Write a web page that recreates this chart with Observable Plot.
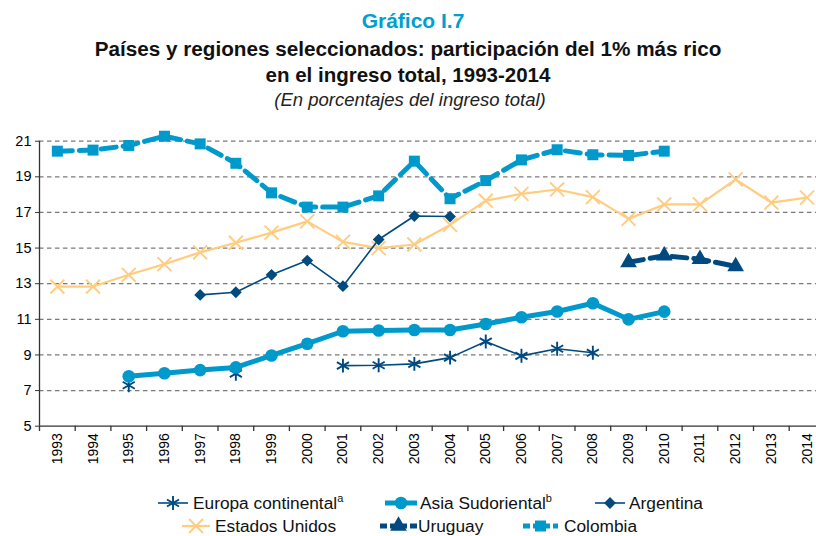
<!DOCTYPE html>
<html>
<head>
<meta charset="utf-8">
<script src="https://cdn.jsdelivr.net/npm/d3@7"></script>
<script src="https://cdn.jsdelivr.net/npm/@observablehq/plot@0.6"></script>
<style>
  html, body { margin: 0; padding: 0; background: #fff; overflow: hidden; }
  #wrap { position: relative; width: 816px; height: 536px; overflow: hidden; background: #fff; font-family: "Liberation Sans", Arial, sans-serif; }
  #wrap svg.plot { position: absolute; left: 0; top: 0; max-width: none !important; height: 536px !important; }
  .t { position: absolute; left: 0; width: 816px; text-align: center; white-space: nowrap; line-height: 1; }
  #legend { position: absolute; left: 0; top: 0; }
</style>
</head>
<body>
<div id="wrap">
  <div class="t" style="top:10px; left:5px; font-size:21px; font-weight:bold; color:#009fd0;">Gráfico I.7</div>
  <div class="t" style="top:39px; font-size:20.7px; font-weight:bold; color:#111;">Países y regiones seleccionados: participación del 1% más rico</div>
  <div class="t" style="top:64.5px; font-size:20.5px; font-weight:bold; color:#111;">en el ingreso total, 1993-2014</div>
  <div class="t" style="top:91px; left:2px; font-size:18.5px; font-style:italic; color:#222;">(En porcentajes del ingreso total)</div>
</div>
<script>
const years = [1993,1994,1995,1996,1997,1998,1999,2000,2001,2002,2003,2004,2005,2006,2007,2008,2009,2010,2011,2012,2013,2014];
const yTicks = [5,7,9,11,13,15,17,19,21];
const seriesNames = ["Europa continental", "Asia Sudoriental", "Argentina", "Estados Unidos", "Uruguay", "Colombia"];
const europa    = [null,null,7.3,null,null,7.95,null,null,8.4,8.42,8.5,8.85,9.75,8.95,9.35,9.12,null,null,null,null,null,null];
const asia      = [null,null,7.8,7.97,8.15,8.3,8.97,9.63,10.33,10.37,10.4,10.4,10.74,11.12,11.44,11.9,11.0,11.43,null,null,null,null];
const argentina = [null,null,null,null,12.37,12.52,13.5,14.3,12.86,15.48,16.8,16.77,null,null,null,null,null,null,null,null,null,null];
const usa       = [12.84,12.84,13.5,14.1,14.76,15.3,15.87,16.5,15.35,15.0,15.2,16.3,17.66,18.04,18.29,17.86,16.64,17.45,17.45,18.86,17.55,17.83];
const uruguay   = [null,null,null,null,null,null,null,null,null,null,null,null,null,null,null,null,14.2,14.57,14.38,13.97,null,null];
const colombia  = [20.44,20.5,20.76,21.28,20.85,19.76,18.1,17.3,17.3,17.93,19.88,17.77,18.79,19.95,20.52,20.24,20.2,20.44,null,null,null,null];

const LB = "#0099cc", DB = "#004a80", OR = "#ffcc80", AX = "#333";
const toRows = (vals) => years.map((year, i) => ({year, value: vals[i]}));
const W = 826, ML = 39, MR = 1.6;
const bw = (W - ML - MR) / years.length;

const styles = {
  europa:    {stroke: DB, strokeWidth: 1.6, symbol: "asterisk", r: 6.6, dash: null, filled: false},
  asia:      {stroke: LB, strokeWidth: 5, symbol: "circle", r: 6.3, dash: null, filled: true},
  argentina: {stroke: DB, strokeWidth: 1.6, symbol: "diamond2", r: 5.3, dash: null, filled: true},
  usa:       {stroke: OR, strokeWidth: 2.2, symbol: "times", r: 6.4, dash: null, filled: false},
  uruguay:   {stroke: DB, strokeWidth: 5, symbol: "triangle", r: 6.2, dash: "15,7", filled: true},
  colombia:  {stroke: LB, strokeWidth: 5, symbol: "square", r: 6.2, dash: "15,7", filled: true}
};
const order = [["usa", usa], ["europa", europa], ["asia", asia], ["argentina", argentina], ["uruguay", uruguay], ["colombia", colombia]];

const seriesMarks = order.flatMap(([key, vals]) => {
  const s = styles[key];
  const rows = toRows(vals);
  return [
    Plot.line(rows, {x: "year", y: "value", stroke: s.stroke, strokeWidth: s.strokeWidth, strokeDasharray: s.dash || undefined, strokeLinejoin: "round"}),
    Plot.dot(rows.filter(d => d.value != null), s.filled
      ? {x: "year", y: "value", symbol: s.symbol, r: s.r, fill: s.stroke, stroke: "none"}
      : {x: "year", y: "value", symbol: s.symbol, r: s.r, fill: "none", stroke: s.stroke, strokeWidth: 1.9})
  ];
});

const chart = Plot.plot({
  width: W, height: 536,
  marginLeft: ML, marginRight: MR, marginTop: 140.7, marginBottom: 110.3,
  style: {fontFamily: "'Liberation Sans', Arial, sans-serif", fontSize: "14px", color: "#000", background: "transparent", overflow: "visible", maxWidth: "none"},
  x: {type: "band", domain: years, padding: 0, round: false, label: null},
  y: {domain: [5, 21], label: null},
  marks: [
    Plot.gridY(yTicks.filter(t => t > 5), {stroke: "#7a7a7a", strokeOpacity: 1, strokeWidth: 1.3, strokeDasharray: "4.5,3.5"}),
    Plot.ruleY([5], {stroke: AX, strokeWidth: 1.3}),
    Plot.ruleX([years[0]], {y1: 5, y2: 21, dx: -bw / 2, stroke: AX, strokeWidth: 1.3}),
    Plot.ruleX(years, {y1: 5, y2: 4.7, dx: -bw / 2, stroke: AX, strokeWidth: 1.3}),
    Plot.axisY({ticks: yTicks, tickSize: 4, tickPadding: 4, stroke: AX, fontSize: 14.5, tickFormat: d => String(d), label: null}),
    Plot.axisX({tickRotate: -90, tickSize: 0, tickPadding: 7, fontSize: 14, tickFormat: d => String(d), label: null}),
    ...seriesMarks
  ]
});
chart.classList.add("plot");
chart.style.maxWidth = "none";
chart.style.width = W + "px";
chart.style.height = "536px";
document.getElementById("wrap").appendChild(chart);

// Legend
const legendItems = [
  {key: "europa",    label: "Europa continental", sup: "a", x0: 158, x1: 188, tx: 193, y: 503},
  {key: "asia",      label: "Asia Sudoriental",   sup: "b", x0: 385, x1: 417, tx: 420, y: 503},
  {key: "argentina", label: "Argentina",          sup: null, x0: 595, x1: 625, tx: 629, y: 503},
  {key: "usa",       label: "Estados Unidos",     sup: null, x0: 182, x1: 210, tx: 215, y: 526},
  {key: "uruguay",   label: "Uruguay",            sup: null, x0: 380, x1: 417, tx: 418, y: 526},
  {key: "colombia",  label: "Colombia",           sup: null, x0: 523, x1: 558, tx: 564, y: 526}
];
const symMap = {asterisk: d3.symbolAsterisk, circle: d3.symbolCircle, diamond2: d3.symbolDiamond2, times: d3.symbolTimes, triangle: d3.symbolTriangle, square: d3.symbolSquare};
const lg = d3.select("#wrap").append("svg").attr("id", "legend").attr("width", 816).attr("height", 536)
  .style("font-family", "'Liberation Sans', Arial, sans-serif");
for (const it of legendItems) {
  const s = styles[it.key];
  const g = lg.append("g");
  const cx = (it.x0 + it.x1) / 2;
  g.append("line").attr("x1", it.x0).attr("x2", it.x1).attr("y1", it.y).attr("y2", it.y)
    .attr("stroke", s.stroke).attr("stroke-width", s.strokeWidth)
    .attr("stroke-dasharray", s.dash ? "7,3" : null);
  const path = d3.symbol(symMap[s.symbol], Math.PI * s.r * s.r)();
  const p = g.append("path").attr("d", path).attr("transform", `translate(${cx},${it.y})`);
  if (s.filled) p.attr("fill", s.stroke);
  else p.attr("fill", "none").attr("stroke", s.stroke).attr("stroke-width", 1.9);
  const t = g.append("text").attr("x", it.tx).attr("y", it.y + 6).attr("font-size", 17.3).attr("fill", "#111").text(it.label);
  if (it.sup) t.append("tspan").attr("dy", -7).attr("font-size", 11).text(it.sup);
}
</script>
</body>
</html>
